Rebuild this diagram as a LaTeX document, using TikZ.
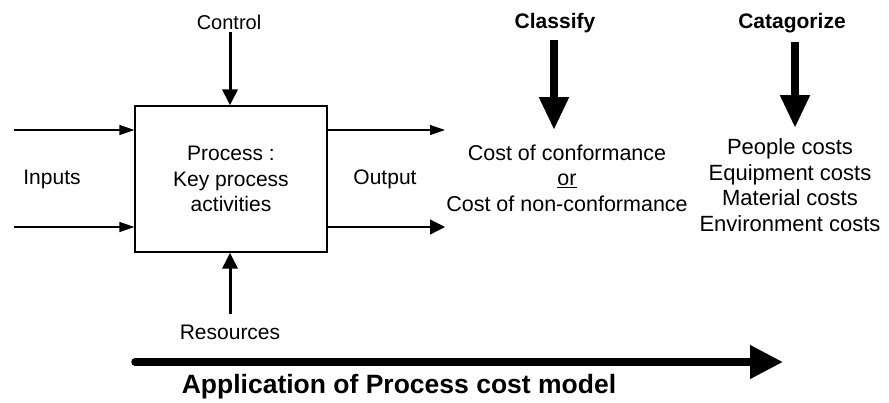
\documentclass[tikz,border=0pt]{standalone}
\usepackage{fontspec}
\setmainfont{Liberation Sans}
\usetikzlibrary{arrows.meta}
\begin{document}
\begin{tikzpicture}[x=1pt,y=-1pt,
  txt/.style={inner sep=0pt,align=center,font=\fontsize{21}{25.5}\selectfont},
  hdr/.style={inner sep=0pt,align=center,font=\fontsize{21}{25.5}\selectfont\bfseries},
  thin arrow/.style={line width=1.2pt,-{Triangle[length=15pt,width=10pt]}},
  mid arrow/.style={line width=3pt,-{Triangle[length=16pt,width=15pt]}},
  fat arrow/.style={line width=8pt,-{Triangle[length=33pt,width=28pt]}}]
\useasboundingbox (0,0) rectangle (889,402);
% box
\node[draw,line width=1.2pt,minimum width=192pt,minimum height=146pt,inner sep=0pt] (box) at (231,179) {};
\node[txt] (proc) at (231,179) {Process :\\Key process\\activities};
% labels
\node[txt,font=\fontsize{20}{24}\selectfont] (ctrl) at (229,22) {Control};
\node[txt] (inp) at (52,179) {Inputs};
\node[txt] (outp) at (385,179) {Output};
\node[txt] (res) at (230,332) {Resources};
\node[hdr] (cls) at (555,23) {Classify};
\node[hdr] (cat) at (792,23) {Catagorize};
\node[txt,font=\fontsize{21.5}{25.5}\selectfont] (cost) at (567,178) {Cost of conformance\\\underline{or}\\Cost of non-conformance};
\node[txt,font=\fontsize{22}{25.5}\selectfont] (costs) at (790,185) {People costs\\Equipment costs\\Material costs\\Environment costs};
\node[inner sep=0pt,font=\fontsize{26.5}{30}\selectfont\bfseries] (app) at (399,387) {Application of Process cost model};
% coordinates
\coordinate (c1) at (230,32);
\coordinate (in1) at (14,130);
\coordinate (in2) at (14,227);
\coordinate (out1) at (445,130);
\coordinate (out2) at (445,227);
\coordinate (r1) at (230,314);
\coordinate (cl1) at (554,40);
\coordinate (cl2) at (554,130);
\coordinate (ca1) at (795,42);
\coordinate (ca2) at (795,128);
\coordinate (b1) at (135,362);
\coordinate (b2) at (783,362);
% arrows
\draw[mid arrow] (c1) -- (c1 |- box.north);
\draw[mid arrow] (r1) -- (r1 |- box.south);
\draw[thin arrow] (in1) -- (in1 -| box.west);
\draw[thin arrow] (in2) -- (in2 -| box.west);
\draw[thin arrow] (out1 -| box.east) -- (out1);
\draw[thin arrow,-{Triangle[length=15pt,width=15pt]}] (out2 -| box.east) -- (out2);
\draw[fat arrow] (cl1) -- (cl2);
\draw[fat arrow] (ca1) -- (ca2);
\draw[line width=7.5pt,line cap=round,-{Triangle[length=33pt,width=32pt]}] (b1) -- (b2);
\end{tikzpicture}
\end{document}
